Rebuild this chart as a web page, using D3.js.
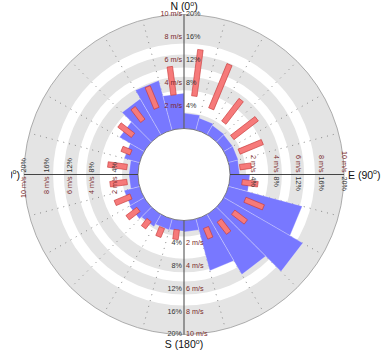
<!DOCTYPE html>
<html><head><meta charset="utf-8">
<script src="https://cdn.jsdelivr.net/npm/d3@7"></script>
<style>body{margin:0;background:#fff}svg{display:block}text{font-family:"Liberation Sans",Arial,sans-serif}</style>
</head><body><svg id="c" width="382" height="351"></svg>
<script>
// sector start bearings (deg), 15-degree sectors
const sectors = d3.range(0, 360, 15);
// frequency (%) per sector
const freq = [2.7,2.2,1.9,1.8,1.8,1.7,3.5,13.4,16.0,12.2,9.4,2.0,1.9,2.0,2.5,3.0,2.8,1.6,1.6,2.8,5.0,7.3,9.0,6.2];
// speed range (m/s) per sector: low / high (null = no bar)
const speedLow  = [2.9,2.2,1.7,1.3,1.2,0.9,1.1,1.75,1.4,1.05,1.0,null,0.85,1.0,1.0,1.0,1.0,1.0,1.0,1.0,1.6,1.9,2.25,3.0];
const speedHigh = [7.0,6.4,4.2,4.0,3.4,1.9,2.5,3.5,2.8,2.4,2.0,null,1.7,1.85,1.8,2.2,2.5,2.5,2.7,1.85,3.1,3.3,4.3,5.5];
const pctTicks = [4,8,12,16,20];
const speedTicks = [2,4,6,8,10];
const bandsPct = [[0,2.8],[6.7,9.1],[10.7,13],[14.9,20]];
const dirNames = ["N","E","S","W"];
const dirAngles = [0,90,180,270];

const svg = d3.select("#c");
const cx = 184, cy = 174.5;
const g = svg.append("g").attr("transform", `translate(${cx},${cy})`);
const r = d3.scaleLinear().domain([0,20]).range([46,160]);
const rs = d3.scaleLinear().domain([0,10]).range([46,160]);
const rad = d => d*Math.PI/180;

// bands
g.selectAll("path.band").data(bandsPct).join("path").attr("class","band")
  .attr("d", d => d3.arc()({innerRadius:r(d[0]), outerRadius:r(d[1]), startAngle:0, endAngle:2*Math.PI}))
  .attr("fill","#e4e4e4");

// dotted radial grid
g.selectAll("line.grid").data(sectors.filter(a => a%90 !== 0)).join("line").attr("class","grid")
  .attr("x1", a => r(0)*Math.sin(rad(a))).attr("y1", a => -r(0)*Math.cos(rad(a)))
  .attr("x2", a => r(20)*Math.sin(rad(a))).attr("y2", a => -r(20)*Math.cos(rad(a)))
  .attr("stroke","#888").attr("stroke-width",1).attr("stroke-dasharray","1,5");

// blue wedges (straight outer edge)
const wedgeLine = d3.lineRadial().angle(d => rad(d[0])).radius(d => d[1]).curve(d3.curveLinearClosed);
g.selectAll("path.wedge").data(sectors).join("path").attr("class","wedge")
  .attr("d", (a,i) => wedgeLine([[a,0],[a,r(freq[i])],[a+15,r(freq[i])]]))
  .attr("fill","#7878ff").attr("stroke","rgba(255,255,255,0.45)").attr("stroke-width",0.6);

// red bars
const barData = sectors.map((a,i) => ({a, lo:speedLow[i], hi:speedHigh[i]})).filter(d => d.lo != null);
g.selectAll("rect.bar").data(barData).join("rect").attr("class","bar")
  .attr("transform", d => `rotate(${d.a+7.5})`)
  .attr("x",-2.75).attr("width",5.5)
  .attr("y", d => -rs(d.hi))
  .attr("height", d => rs(d.hi) - rs(d.lo))
  .attr("fill","#f67a7a").attr("stroke","#c83a3a").attr("stroke-width",0.6);

// inner hole
g.append("circle").attr("r", r(0)).attr("fill","#fff").attr("stroke","#666").attr("stroke-width",0.8);
// outer circle
g.append("circle").attr("r", r(20)).attr("fill","none").attr("stroke","#999").attr("stroke-width",0.8);

// axes lines
dirAngles.forEach(a => {
  g.append("line")
   .attr("x1", r(0)*Math.sin(rad(a))).attr("y1", -r(0)*Math.cos(rad(a)))
   .attr("x2", r(20)*Math.sin(rad(a))).attr("y2", -r(20)*Math.cos(rad(a)))
   .attr("stroke","#444").attr("stroke-width",1);
});

// axis tick labels
const fs = 7.2, cSpd = "#7a2a2a", cPct = "#333";
function lab(tr, x, anchor, color, txt){
  g.append("text").attr("transform", tr).attr("x", x).attr("text-anchor", anchor)
   .attr("dominant-baseline","middle").attr("font-size", fs).attr("fill", color).text(txt);
}
pctTicks.forEach((p,i) => {
  const s = speedTicks[i] + " m/s", q = p + "%", R = r(p);
  lab(`translate(0,${-R})`, -2, "end", cSpd, s);
  lab(`translate(0,${-R})`, 2, "start", cPct, q);
  lab(`translate(0,${R})`, -2, "end", cPct, q);
  lab(`translate(0,${R})`, 2, "start", cSpd, s);
  lab(`translate(${R},0) rotate(90)`, -2, "end", cSpd, s);
  lab(`translate(${R},0) rotate(90)`, 2, "start", cPct, q);
  lab(`translate(${-R},0) rotate(-90)`, 2, "start", cPct, q);
  lab(`translate(${-R},0) rotate(-90)`, -2, "end", cSpd, s);
});

// direction labels
svg.append("clipPath").attr("id","clipW").append("rect").attr("x",11).attr("y",0).attr("width",371).attr("height",351);
function dirLabel(x, y, anchor, name, deg, clip){
  const t = svg.append("text").attr("x",x).attr("y",y).attr("text-anchor",anchor).attr("font-size",10.5).attr("fill","#111");
  if (clip) t.attr("clip-path", "url(#clipW)");
  t.append("tspan").text(`${name} (${deg}`);
  t.append("tspan").attr("font-size",7).attr("dy",-4.5).text("o");
  t.append("tspan").attr("dy",4.5).text(")");
}
dirLabel(cx, 10, "middle", dirNames[0], dirAngles[0]);
dirLabel(348, cy+4, "start", dirNames[1], dirAngles[1]);
dirLabel(cx, 348, "middle", dirNames[2], dirAngles[2]);
dirLabel(20, cy+4, "end", dirNames[3], dirAngles[3], true);
</script></body></html>
